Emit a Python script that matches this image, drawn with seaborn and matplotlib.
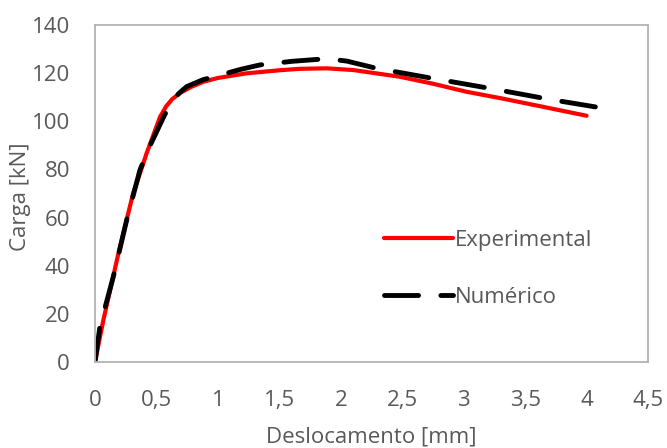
import matplotlib
matplotlib.use("Agg")
import matplotlib.pyplot as plt
import seaborn as sns
import pandas as pd
from matplotlib.ticker import FuncFormatter

# Experimental curve
exp_x = [0.0, 0.068, 0.19, 0.31, 0.37, 0.42, 0.48, 0.53, 0.58, 0.63, 0.70, 0.78, 0.88, 1.0, 1.23, 1.5, 1.67, 1.885, 2.1, 2.48, 2.75, 3.02, 3.3, 3.57, 4.0]
exp_y = [0.0, 17.4, 45.0, 70.0, 79.0, 86.7, 95.0, 101.9, 106.3, 109.3, 112.0, 114.2, 116.4, 118.0, 119.9, 121.2, 121.8, 122.0, 121.3, 118.5, 115.6, 112.3, 109.6, 106.8, 102.3]

# Numerical curve
num_x = [0.0, 0.04, 0.149, 0.258, 0.366, 0.44, 0.5, 0.56, 0.61, 0.68, 0.746, 0.88, 1.017, 1.18, 1.34, 1.6, 1.885, 2.05, 2.29, 2.75, 3.21, 3.70, 4.14]
num_y = [0.0, 14.7, 35.4, 59.0, 79.8, 89.0, 95.5, 102.0, 106.8, 111.5, 114.4, 117.3, 119.2, 121.5, 123.4, 124.9, 126.0, 125.0, 122.0, 117.8, 113.7, 109.1, 105.4]

series_names = ["Experimental", "Numérico"]
x_ticks = [0, 0.5, 1, 1.5, 2, 2.5, 3, 3.5, 4, 4.5]
y_ticks = [0, 20, 40, 60, 80, 100, 120, 140]

sns.set_style("white")
plt.rcParams['font.family'] = ['Open Sans', 'DejaVu Sans']
text_color = "#595959"
frame_color = "#b3b3b3"
fs = 16

fig = plt.figure(figsize=(6.67, 4.48), dpi=100)
ax = fig.add_axes([95/667, 1-362/448, (648-95)/667, (362-25)/448])

df_exp = pd.DataFrame({"x": exp_x, "y": exp_y})
df_num = pd.DataFrame({"x": num_x, "y": num_y})

sns.lineplot(data=df_exp, x="x", y="y", ax=ax, sort=False, estimator=None,
             color="#ff0000", linewidth=3.0, label=series_names[0],
             solid_capstyle="round", solid_joinstyle="round")
sns.lineplot(data=df_num, x="x", y="y", ax=ax, sort=False, estimator=None,
             color="#000000", linewidth=3.5, label=series_names[1],
             dashes=False)
line = ax.get_lines()[1]
line.set_dashes([7, 4.6])
line.set_dash_capstyle("round")
line.set_dash_joinstyle("round")

ax.set_xlim(0, 4.5)
ax.set_ylim(0, 140)
ax.set_xticks(x_ticks)
ax.set_yticks(y_ticks)
fmt = FuncFormatter(lambda v, p: ("%g" % v).replace(".", ","))
ax.xaxis.set_major_formatter(fmt)
ax.tick_params(axis="both", length=0, labelsize=fs, labelcolor=text_color)
ax.tick_params(axis="y", pad=18)
ax.tick_params(axis="x", pad=20)

for s in ax.spines.values():
    s.set_visible(True)
    s.set_color(frame_color)
    s.set_linewidth(1.3)

ax.set_xlabel("Deslocamento [mm]", fontsize=fs, color=text_color, va="center")
ax.set_ylabel("Carga [kN]", fontsize=fs, color=text_color, va="center")
ax.xaxis.set_label_coords((371-95)/553, (362-437)/337)
ax.yaxis.set_label_coords((21-95)/553, (362-197)/337)

leg = ax.legend(loc="upper left", bbox_to_anchor=((364-95)/553, (362-210)/337),
                frameon=False, fontsize=fs, handlelength=3.1, handletextpad=0.1,
                labelspacing=1.6)
for t in leg.get_texts():
    t.set_color(text_color)

fig.savefig("out.png", dpi=100)
